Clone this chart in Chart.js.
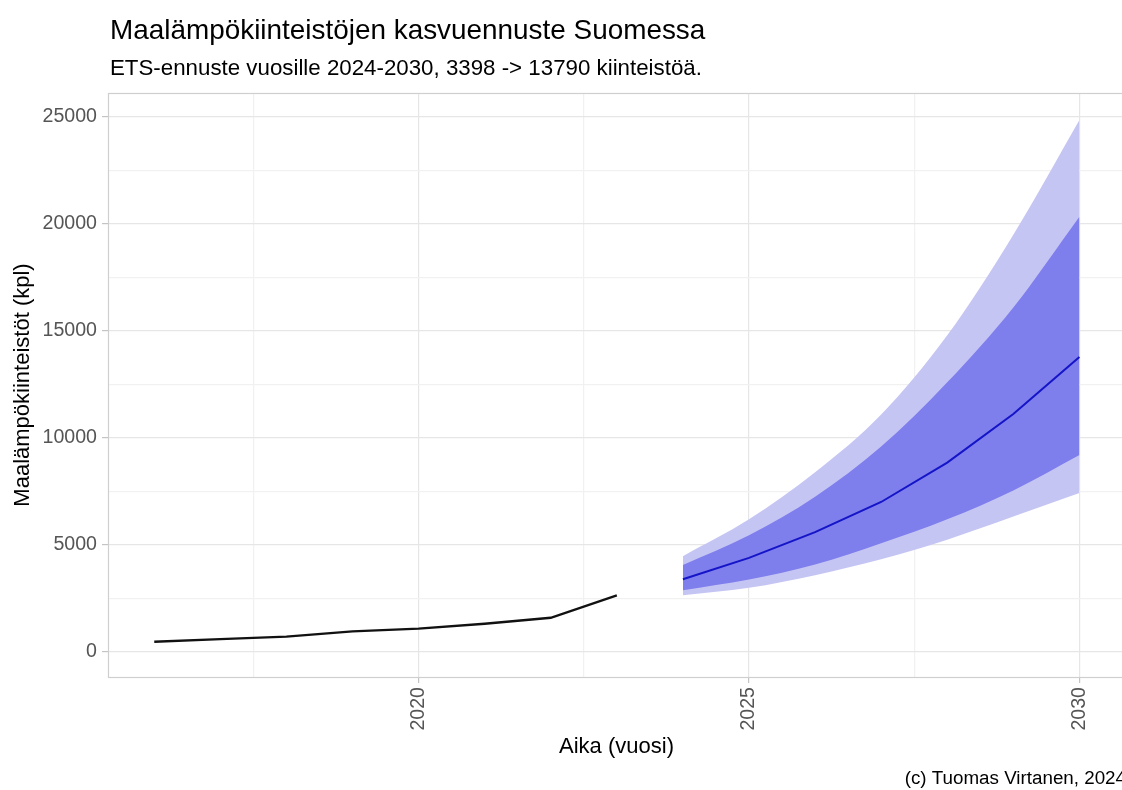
<!DOCTYPE html>
<html lang="fi">
<head>
<meta charset="utf-8">
<title>Maalämpökiinteistöjen kasvuennuste Suomessa</title>
<script src="https://cdn.jsdelivr.net/npm/chart.js@4.4.1/dist/chart.umd.min.js"></script>
<style>
  html, body { margin: 0; padding: 0; background: #ffffff; overflow: hidden; }
  #wrap { position: relative; width: 1126px; height: 790px; }
  canvas { display: block; }
</style>
</head>
<body>
<div id="wrap"><canvas id="chart" width="1126" height="790"></canvas></div>
<script>
// Toteutuneet maalämpökiinteistöt vuosittain
const historyYears = [2016, 2017, 2018, 2019, 2020, 2021, 2022, 2023];
const historyValues = [480, 600, 720, 960, 1090, 1320, 1600, 2650];

// ETS-ennuste ja sen luottamusvälit
const forecastYears = [2024, 2025, 2026, 2027, 2028, 2029, 2030];
const forecastMean = [3398, 4400, 5600, 7010, 8850, 11120, 13790];
const lower80 = [2890, 3390, 4090, 5080, 6200, 7550, 9210];
const upper80 = [4060, 5450, 7250, 9600, 12600, 16100, 20340];
const lower95 = [2650, 3000, 3590, 4330, 5250, 6330, 7430];
const upper95 = [4480, 6200, 8400, 11100, 14800, 19500, 24860];

// Akselien jaotukset (pää- ja väliviivat)
const xTickValues = [2017.5, 2020, 2022.5, 2025, 2027.5, 2030];
const xTickLabels = ['', '2020', '', '2025', '', '2030'];
const yTickValues = [0, 2500, 5000, 7500, 10000, 12500, 15000, 17500, 20000, 22500, 25000];
const yTickLabels = ['0', '', '5000', '', '10000', '', '15000', '', '20000', '', '25000'];

const titleText = 'Maalämpökiinteistöjen kasvuennuste Suomessa';
const subtitleText = 'ETS-ennuste vuosille 2024-2030, 3398 -> 13790 kiinteistöä.';
const captionText = '(c) Tuomas Virtanen, 2024';
const xTitle = 'Aika (vuosi)';
const yTitle = 'Maalämpökiinteistöt (kpl)';

const FONT = '"Liberation Sans", Arial, Helvetica, sans-serif';

const pts = (xs, ys) => xs.map((x, i) => ({ x: x, y: ys[i] }));

const GRID_MAJOR = '#e6e6e6';
const GRID_MINOR = '#f1f1f1';
const TICK_COLOR = '#c4c4c4';
const BORDER_COLOR = '#cfcfcf';

// Otsikot, alaotsikko, lähdeteksti ja paneelin kehys
const decorations = {
  id: 'decorations',
  afterDatasetsDraw(chart) {
    const { ctx, chartArea: a } = chart;
    ctx.save();
    ctx.strokeStyle = BORDER_COLOR;
    ctx.lineWidth = 1.2;
    ctx.strokeRect(a.left + 0.5, a.top + 0.5, a.right - a.left, a.bottom - a.top);
    ctx.restore();
  },
  afterDraw(chart) {
    const { ctx } = chart;
    ctx.save();
    ctx.fillStyle = '#000000';
    ctx.textAlign = 'left';
    ctx.textBaseline = 'alphabetic';
    ctx.font = '27.9px ' + FONT;
    ctx.fillText(titleText, 110, 39);
    ctx.font = '22.3px ' + FONT;
    ctx.fillText(subtitleText, 110, 75);
    ctx.textAlign = 'right';
    ctx.font = '18.8px ' + FONT;
    ctx.fillText(captionText, 1126, 784);
    ctx.restore();
  }
};

const lineBase = { pointRadius: 0, pointHoverRadius: 0, borderWidth: 0, fill: false };

new Chart(document.getElementById('chart'), {
  type: 'line',
  data: {
    datasets: [
      {
        label: 'Toteutunut',
        data: pts(historyYears, historyValues),
        borderColor: '#111111',
        borderWidth: 2.3,
        pointRadius: 0,
        fill: false,
        tension: 0
      },
      {
        label: 'Ennuste',
        data: pts(forecastYears, forecastMean),
        borderColor: '#1414c8',
        borderWidth: 2,
        pointRadius: 0,
        fill: false,
        tension: 0
      },
      Object.assign({ label: '80 % alaraja', data: pts(forecastYears, lower80), borderColor: 'rgba(0,0,0,0)', cubicInterpolationMode: 'monotone' }, lineBase),
      Object.assign({}, lineBase, {
        label: '80 %',
        data: pts(forecastYears, upper80),
        borderColor: 'rgba(0,0,0,0)',
        backgroundColor: 'rgb(126,126,236)',
        cubicInterpolationMode: 'monotone',
        fill: '-1'
      }),
      Object.assign({ label: '95 % alaraja', data: pts(forecastYears, lower95), borderColor: 'rgba(0,0,0,0)', cubicInterpolationMode: 'monotone' }, lineBase),
      Object.assign({}, lineBase, {
        label: '95 %',
        data: pts(forecastYears, upper95),
        borderColor: 'rgba(0,0,0,0)',
        backgroundColor: 'rgb(197,197,244)',
        cubicInterpolationMode: 'monotone',
        fill: '-1'
      })
    ]
  },
  options: {
    responsive: false,
    animation: false,
    events: [],
    layout: { padding: { top: 93, left: 0, right: 1, bottom: 0 } },
    plugins: {
      legend: { display: false },
      tooltip: { enabled: false },
      title: { display: false },
      filler: { propagate: false }
    },
    scales: {
      x: {
        type: 'linear',
        min: 2015.3,
        max: 2030.69,
        afterBuildTicks(scale) { scale.ticks = xTickValues.map(v => ({ value: v })); },
        afterFit(scale) { scale.height = 113; },
        border: { display: false },
        grid: {
          color: (c) => (c.tick && c.tick.value % 5 === 0 ? GRID_MAJOR : GRID_MINOR),
          lineWidth: 1.2,
          tickLength: 6,
          tickColor: (c) => (c.tick && c.tick.value % 5 === 0 ? TICK_COLOR : 'rgba(0,0,0,0)')
        },
        ticks: {
          autoSkip: false,
          minRotation: 90,
          maxRotation: 90,
          padding: 4,
          color: '#555555',
          font: { family: FONT, size: 19.6 },
          callback: (v) => xTickLabels[xTickValues.indexOf(v)]
        },
        title: {
          display: true,
          text: xTitle,
          color: '#000000',
          font: { family: FONT, size: 22 },
          padding: { top: 0, bottom: 30 }
        }
      },
      y: {
        type: 'linear',
        min: -1168,
        max: 26121,
        afterBuildTicks(scale) { scale.ticks = yTickValues.map(v => ({ value: v })); },
        afterFit(scale) { scale.width = 108; },
        border: { display: false },
        grid: {
          color: (c) => (c.tick && c.tick.value % 5000 === 0 ? GRID_MAJOR : GRID_MINOR),
          lineWidth: 1.2,
          tickLength: 6,
          tickColor: (c) => (c.tick && c.tick.value % 5000 === 0 ? TICK_COLOR : 'rgba(0,0,0,0)')
        },
        ticks: {
          autoSkip: false,
          padding: 5,
          color: '#555555',
          font: { family: FONT, size: 19.6 },
          callback: (v) => yTickLabels[yTickValues.indexOf(v)]
        },
        title: {
          display: true,
          text: yTitle,
          color: '#000000',
          font: { family: FONT, size: 22 },
          padding: { top: 10, bottom: 0 }
        }
      }
    }
  },
  plugins: [decorations]
});
</script>
</body>
</html>
